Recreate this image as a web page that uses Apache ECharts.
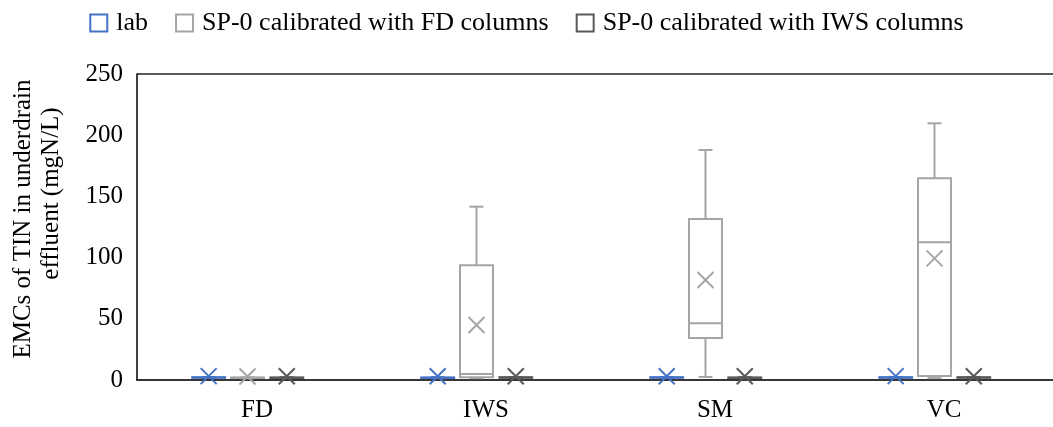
<!DOCTYPE html>
<html>
<head>
<meta charset="utf-8">
<script src="https://cdn.jsdelivr.net/npm/echarts@6/dist/echarts.min.js"></script>
<style>
  html, body { margin: 0; padding: 0; background: #fff; }
  #chart { width: 1053px; height: 427px; }
</style>
</head>
<body>
<div id="chart"></div>
<script>
// ---- data ----
const categories = ['FD', 'IWS', 'SM', 'VC'];
const seriesNames = ['lab', 'SP-0 calibrated with FD columns', 'SP-0 calibrated with IWS columns'];
// each entry: [min, Q1, median, Q3, max]
const labStats = [[1.6, 1.8, 2.0, 2.2, 2.4], [1.5, 1.7, 1.9, 2.1, 2.3], [1.6, 1.8, 2.0, 2.2, 2.4], [1.7, 1.9, 2.1, 2.3, 2.5]];
const labMeans = [3.2, 3.0, 3.1, 3.2];
const fdStats = [[1.4, 1.6, 1.8, 2.0, 2.2], [1.5, 2.2, 5.0, 93.7, 141.6], [2.5, 34.3, 46.3, 131.5, 187.9], [1.5, 3.2, 112.5, 164.8, 209.7]];
const fdMeans = [2.8, 44.9, 81.7, 99.4];
const iwsStats = [[1.5, 1.7, 1.9, 2.1, 2.3], [1.6, 1.8, 2.0, 2.2, 2.4], [1.5, 1.7, 1.9, 2.1, 2.3], [1.6, 1.8, 2.0, 2.2, 2.4]];
const iwsMeans = [3.1, 3.0, 3.1, 3.1];
const yTicks = { min: 0, max: 250, interval: 50 };

const colors = ['#4472C4', '#A5A5A5', '#595959'];
const offsets = [-0.187, -0.0175, 0.154];   // fraction of band width
const boxFrac = 0.144;
const FONT = 'Liberation Serif';

function toRows(stats, means) {
  return stats.map((s, i) => [i].concat(s).concat([means[i]]));
}
const allData = [toRows(labStats, labMeans), toRows(fdStats, fdMeans), toRows(iwsStats, iwsMeans)];

function makeRender(off, color) {
  return function (params, api) {
    const idx = api.value(0);
    const band = api.size([1, 0])[0];
    const cx = api.coord([idx, 0])[0] + off * band;
    const hw = boxFrac * band / 2;
    const cap = 7;
    const xs = 8;
    const y = k => api.coord([idx, api.value(k)])[1];
    const yMin = y(1), yQ1 = y(2), yMed = y(3), yQ3 = y(4), yMax = y(5), yMean = y(6);
    const st = { stroke: color, lineWidth: 2, fill: null };
    const L = (x1, y1, x2, y2) => ({ type: 'line', shape: { x1, y1, x2, y2 }, style: st });
    return {
      type: 'group',
      children: [
        L(cx, yQ3, cx, yMax),
        L(cx - cap, yMax, cx + cap, yMax),
        L(cx, yQ1, cx, yMin),
        L(cx - cap, yMin, cx + cap, yMin),
        { type: 'rect', shape: { x: cx - hw, y: yQ3, width: 2 * hw, height: Math.max(yQ1 - yQ3, 0.3) },
          style: { stroke: color, lineWidth: 2, fill: 'rgba(0,0,0,0)' } },
        L(cx - hw, yMed, cx + hw, yMed),
        L(cx - xs, yMean - xs, cx + xs, yMean + xs),
        L(cx - xs, yMean + xs, cx + xs, yMean - xs)
      ]
    };
  };
}

const chart = echarts.init(document.getElementById('chart'), null, { renderer: 'canvas' });
chart.setOption({
  animation: false,
  backgroundColor: '#fff',
  textStyle: { fontFamily: FONT, color: '#000' },
  legend: {
    top: 5,
    left: 'center',
    itemWidth: 17,
    itemHeight: 17,
    itemGap: 27,
    icon: 'rect',
    textStyle: { fontFamily: FONT, fontSize: 26, color: '#000', padding: [0, 0, 0, 4] },
    data: seriesNames.map((n, i) => ({
      name: n,
      itemStyle: { color: '#fff', borderColor: colors[i], borderWidth: 2 }
    }))
  },
  grid: { left: 137, right: 0, top: 74, bottom: 47 },
  xAxis: {
    type: 'category',
    data: categories,
    offset: 2,
    axisLine: { lineStyle: { color: '#000', width: 1.5 } },
    axisTick: { show: false },
    axisLabel: { fontFamily: FONT, fontSize: 25, color: '#000', margin: 16, padding: [0, 0, 0, 11] },
    splitLine: { show: false }
  },
  yAxis: {
    type: 'value',
    min: yTicks.min,
    max: yTicks.max,
    interval: yTicks.interval,
    name: '{a|EMCs of TIN in underdrain}\n{b|effluent (mgN/L)}',
    nameLocation: 'middle',
    nameGap: 72,
    nameTextStyle: {
      fontFamily: FONT, fontSize: 25, color: '#000', lineHeight: 28,
      rich: {
        a: { fontFamily: FONT, fontSize: 25, color: '#000', lineHeight: 28, padding: [0, 0, 0, 16] },
        b: { fontFamily: FONT, fontSize: 25, color: '#000', lineHeight: 28, padding: [0, 0, 0, 67] }
      }
    },
    axisLine: { show: true, lineStyle: { color: '#000', width: 1.5 } },
    axisTick: { show: false },
    axisLabel: { fontFamily: FONT, fontSize: 25, color: '#000', margin: 14 },
    splitLine: {
      show: true,
      lineStyle: { width: 2, color: ['#D9D9D9', 'rgba(0,0,0,0)', 'rgba(0,0,0,0)', 'rgba(0,0,0,0)', 'rgba(0,0,0,0)', '#595959'] }
    }
  },
  series: seriesNames.map((n, i) => ({
    name: n,
    type: 'custom',
    itemStyle: { color: colors[i] },
    renderItem: makeRender(offsets[i], colors[i]),
    encode: { x: 0, y: [1, 2, 3, 4, 5, 6] },
    clip: false,
    data: allData[i]
  }))
});
</script>
</body>
</html>
